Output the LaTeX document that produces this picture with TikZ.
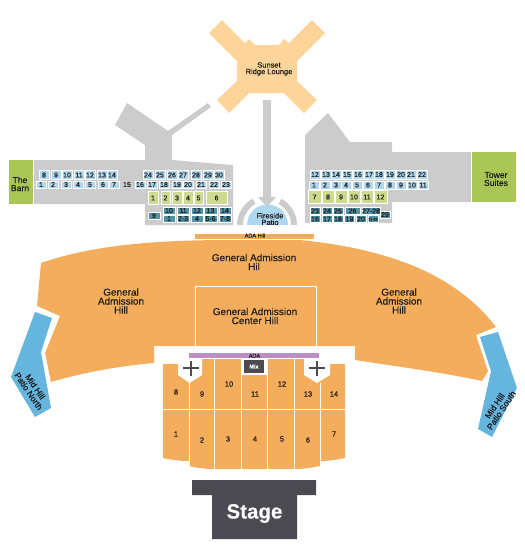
\documentclass[tikz,border=0pt]{standalone}
\usepackage{fontspec}
\setmainfont[FakeBold=0.25]{Liberation Sans}
\definecolor{cOr}{HTML}{F4AD5C}
\definecolor{cLo}{HTML}{FDD59A}
\definecolor{cGr}{HTML}{CCCCCC}
\definecolor{cGn}{HTML}{A9C657}
\definecolor{cBl}{HTML}{66B5DE}
\definecolor{cLb}{HTML}{AED8F0}
\definecolor{cPg}{HTML}{D0DA8E}
\definecolor{cTe}{HTML}{5393A8}
\definecolor{cDk}{HTML}{4A4A50}
\definecolor{cPu}{HTML}{BB8FC4}
\definecolor{cTx}{HTML}{1C1C1C}
\tikzset{
  txt/.style={text=cTx,align=center,inner sep=0pt},
  big/.style={txt,font=\fontsize{10}{9}\selectfont},
  mid/.style={txt,font=\fontsize{8.6}{8}\selectfont},
  lng/.style={txt,font=\fontsize{7.5}{6.6}\selectfont},
  sec/.style={txt,font=\fontsize{7.5}{7.5}\selectfont},
  num/.style={txt,font=\fontsize{7}{7}\selectfont,text height=4.8pt,text depth=0pt},
  lbox/.style={num,fill=cLb,draw=white,line width=.5pt,minimum width=10pt,minimum height=7.5pt},
  gbox/.style={num,fill=cPg,draw=white,line width=.7pt,minimum height=12.5pt},
  tbox/.style={num,fill=cTe,draw=white,line width=.5pt,minimum height=6.8pt},
}
\begin{document}
\begin{tikzpicture}[x=1pt,y=-1pt]
\useasboundingbox (0,0) rectangle (525,550);
% grey buildings left
\fill[cGr] (34,160) -- (145,160) -- (145,145) -- (115,125) -- (127,103) -- (168,131) -- (208,103) -- (211,107) -- (172,135) -- (172,160) -- (233,165) -- (233,225) -- (145,225) -- (145,204) -- (34,204) -- cycle;
\fill[cGr] (305,135) -- (328,113) -- (350,142) -- (392,142) -- (392,152) -- (471,152) -- (471,202) -- (392,202) -- (392,223) -- (305,223) -- cycle;
\fill[cGn] (9,160) rectangle (33,204);
\fill[cGn] (472,152) rectangle (516,202);
\node[mid] (barn) at (20,184) {The\\Barn};
\node[mid] (tower) at (496,179) {Tower\\Suites};
% lounge
\fill[cLo] (209,33) -- (222,20) -- (245,43) -- (249,39) -- (255,45) -- (279,45) -- (284,39) -- (289,43) -- (312,20) -- (325,33) -- (297,61) -- (297,81) -- (317,100) -- (304,113) -- (284,93) -- (249,93) -- (229,113) -- (217,100) -- (237,81) -- (237,61) -- cycle;
\node[lng] (lounge) at (269,69) {Sunset\\Ridge Lounge};
% fireside
\begin{scope}
\clip (230,185) rectangle (305,224);
\fill[cGr,even odd rule] (267,225) circle[radius=30] (267,225) circle[radius=24];
\fill[white] (267,225) -- (248,190) -- (286,190) -- cycle;
\fill[cLb] (267.5,225) circle[radius=20.5];
\node[lng] (fireside) at (270,219) {Fireside\\Patio};
\end{scope}
\fill[cGr] (263,100) -- (271,100) -- (271,197) -- (276,197) -- (267,207) -- (258,197) -- (263,197) -- cycle;
% hill
\fill[cOr] (41,263) .. controls (90,246) and (150,240) .. (230,240) -- (300,240) .. controls (400,250) and (460,280) .. (496,327) -- (476,335) -- (488,371) -- (482,381) .. controls (440,372) and (400,367) .. (355,360) -- (355,346) -- (154,346) -- (154,363) .. controls (120,366) and (85,372) .. (51,382) -- (45,353) -- (60,316) -- (37,306) -- cycle;
\draw[white,line width=.8pt] (195,346) -- (195,286.5) -- (316,286.5) -- (316,346);
\draw[white,line width=1pt] (195,239.7) -- (314,239.7);
\begin{scope}
\clip (190,233.5) rectangle (320,240);
\fill[cOr] (195,234) rectangle (314,239);
\node[txt,font=\fontsize{5.5}{5.5}\selectfont] (adahill) at (255,235.5) {ADA Hill};
\end{scope}
\node[big] (gahtop) at (254,262) {General Admission\\Hil};
\node[big] (gahleft) at (121,301) {General\\Admission\\Hill};
\node[big] (gahright) at (399,301) {General\\Admission\\Hill};
\node[big] (gahcenter) at (255,316) {General Admission\\Center Hill};
% patios
\fill[cBl] (35,312) -- (52,318) -- (41,352) -- (51,408) -- (35,417) -- (11,377) -- cycle;
\fill[cBl] (480,337) -- (498,332) -- (517,388) -- (492,437) -- (478,429) -- (491,371) -- cycle;
\node[mid,rotate=-56,font=\fontsize{8.6}{8}\selectfont] (patn) at (32,389) {Mid Hill\\Patio North};
\node[mid,rotate=56,font=\fontsize{8.6}{8}\selectfont] (pats) at (498,408) {Mid Hill\\Patio South};
% floor sections
\fill[cOr] (163,364) -- (189,364) -- (189,359) -- (241,359) -- (241,375) -- (267,375) -- (267,359) -- (320,359) -- (320,364) -- (345,364) -- (345,458) .. controls (336,460) and (328,461) .. (320,461) -- (320,466) .. controls (311,468) and (302,469) .. (294,469) -- (214,469) .. controls (205,469) and (197,468) .. (189,466) -- (189,461) .. controls (180,461) and (172,460) .. (163,458) -- cycle;
\fill[white] (178,358) -- (178,375) -- (189.5,383) -- (202,375) -- (202,358) -- cycle;
\fill[white] (304,358) -- (304,375) -- (317,383) -- (330,375) -- (330,358) -- cycle;
\draw[white,line width=.9pt] (163,409) -- (345,409);
\draw[white,line width=.9pt] (189,383) -- (189,470) (214.5,358) -- (214.5,470) (241,358) -- (241,470) (267.5,358) -- (267.5,470) (294,358) -- (294,470) (320,383) -- (320,470);
\fill[cPu] (189,353) rectangle (319,358);
\node[txt,font=\fontsize{5.5}{5.5}\selectfont] (ada) at (254.5,355.7) {ADA};
\fill[cDk] (244,360) rectangle (264,373);
\node[txt,text=white,font=\fontsize{5.5}{5.5}\bfseries] (mix) at (254,366.5) {Mix};
\draw[cDk,line width=1.4pt] (183,368) -- (199,368) (191,360.5) -- (191,376);
\draw[cDk,line width=1.4pt] (309,368) -- (325,368) (317,360.5) -- (317,376);
\foreach \t/\x/\y in {8/176/392,9/202/394,10/229/384,11/255/394,12/282/384,13/308/394,14/334/394,1/176/434,2/202/440,3/228/439,4/255/439,5/282/439,6/308/440,7/334/434}
  \node[sec,name=fl\t] at (\x,\y) {\t};
% stage
\fill[cDk] (192,480) -- (316,480) -- (316,495) -- (297,495) -- (297,539) -- (212,539) -- (212,495) -- (192,495) -- cycle;
\node[txt,text=white,font=\fontsize{20.5}{20.5}\selectfont\bfseries] (stage) at (254.5,513.5) {Stage};
% left seats
\foreach \t/\x in {8/44,9/56,10/67,11/79,12/90,13/102,14/112,24/148,25/160,26/172,27/183,28/196,29/208,30/219}
  \node[lbox,minimum height=9pt,name=la\t] at (\x,175) {\t};
\foreach \t/\x in {1/41,2/53,3/66,4/78,5/90,6/103,7/114,16/140,17/152,18/164,19/177,20/188,21/201,22/214,23/226}
  \node[lbox,name=lb\t] at (\x,184.5) {\t};
\node[num] (lb15) at (127,184.5) {15};
\foreach \t/\x/\w in {1/153/10,2/165.5/9,3/177/10,4/188/10,5/198.5/9,6/216.5/21}
  \node[gbox,minimum width=\w pt,name=lg\t] at (\x,198) {\t};
\foreach \t/\x in {10/169,11/183,12/197,13/210.5,14/225}
  \node[tbox,minimum width=12.5pt,name=lt\t] at (\x,210.5) {\t};
\foreach \t/\x in {1/169,2-3/183,4/197,5-6/210.5,7-8/225}
  \node[tbox,minimum width=12.5pt,name=lu\t] at (\x,218.5) {\t};
\node[tbox,minimum width=12.5pt,minimum height=7.5pt] (lt9) at (154,215.5) {9};
% right seats
\foreach \t/\x in {12/315,13/326,14/336,15/347,16/358,17/369,18/379,19/390,20/401,21/411,22/422}
  \node[lbox,minimum height=9pt,name=ra\t] at (\x,174.5) {\t};
\foreach \t/\x in {1/314,2/325,3/336,4/346,5/357,6/368,7/379,8/390,9/401,10/412,11/423}
  \node[lbox,minimum height=8pt,name=rb\t] at (\x,185) {\t};
\foreach \t/\x/\w in {7/314.5/13,8/328/12,9/341/12,10/354/12,11/367/12,12/380.5/13}
  \node[gbox,minimum width=\w pt,name=rg\t] at (\x,197) {\t};
\foreach \t/\x/\w in {23/315/10.5,24/327/10.5,25/338/10.5,26/352.5/15,27-28/371/18}
  \node[tbox,minimum width=\w pt,name=rt\t] at (\x,211) {\t};
\foreach \t/\x/\w in {16/315/10.5,17/327/10.5,18/338/10.5,19/349.5/10,20/361/10}
  \node[tbox,minimum width=\w pt,name=ru\t] at (\x,219) {\t};
\node[tbox,minimum width=10.5pt,font=\fontsize{3.5}{3.5}\selectfont,text height=2.6pt] (ru21) at (373,219) {21-22};
\node[tbox,minimum width=10pt,minimum height=7.5pt] (rt29) at (385,214.5) {29};
\end{tikzpicture}
\end{document}
